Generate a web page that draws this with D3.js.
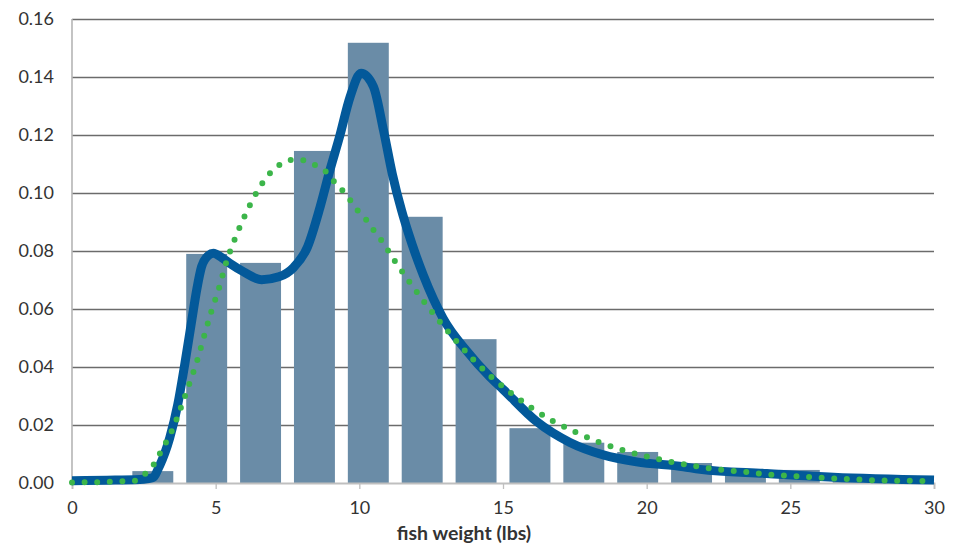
<!DOCTYPE html>
<html>
<head>
<meta charset="utf-8">
<script src="https://cdn.jsdelivr.net/npm/d3@7"></script>
<style>
  body { margin: 0; background: #fff; }
  svg { font-family: Lato, "Open Sans", sans-serif; }
</style>
</head>
<body>
<div id="viz-container"></div>
<script>
// histogram bins (16 bins over 0..30 lbs) and relative frequency
let binLabels = ["0.94", "2.81", "4.69", "6.56", "8.44", "10.31", "12.19", "14.06",
                 "15.94", "17.81", "19.69", "21.56", "23.44", "25.31", "27.19", "29.06"];
let binValues = [0, 0.0041, 0.079, 0.0759, 0.1145, 0.1518, 0.0918, 0.0496,
                 0.0189, 0.0139, 0.0107, 0.0069, 0.004, 0.0045, 0.0012, 0.0008];

// kernel density estimate (thick blue)
let kdeX = [0, 1.5, 2.5, 2.8, 3.06, 3.4, 3.68, 3.93, 4.17, 4.34, 4.51, 4.75, 4.92, 5.2, 5.5,
            5.96, 6.6, 7.2, 7.7, 8.2, 8.63, 8.98, 9.3, 9.68, 10.06, 10.49, 10.84, 11.15, 11.47,
            11.7, 12.23, 12.92, 13.74, 14.55, 15.01, 16.17, 17.33, 18.49, 19.65, 21.28, 21.86,
            24.18, 26.5, 30];
let kdeY = [0.0008, 0.001, 0.0013, 0.0018, 0.0062, 0.0155, 0.027, 0.0413, 0.0562, 0.0666,
            0.0746, 0.0785, 0.0792, 0.0778, 0.0757, 0.0729, 0.0701, 0.0711, 0.0742, 0.0815,
            0.095, 0.108, 0.119, 0.1332, 0.1413, 0.1367, 0.1217, 0.1065, 0.094, 0.0864, 0.0716,
            0.0567, 0.0455, 0.0365, 0.0322, 0.0212, 0.014, 0.0097, 0.0073, 0.0056, 0.0047,
            0.0033, 0.002, 0.001];

// fitted distribution (green dotted)
let fitX = [0, 0.9, 1.75, 2.19, 2.56, 2.86, 3.06, 3.27, 3.5, 3.79, 4.08, 4.36, 4.6, 4.85, 5.11,
            5.37, 5.67, 6.0, 6.38, 6.89, 7.22, 7.61, 8.04, 8.45, 8.82, 9.12, 9.4, 9.68, 9.95,
            10.23, 10.49, 10.76, 11.23, 11.74, 12.26, 12.81, 13.37, 13.97, 14.58, 15.27, 15.98,
            16.73, 17.51, 18.31, 19.14, 19.98, 20.84, 21.7, 22.57, 23.45, 24.32, 25.2, 26.07,
            26.94, 27.81, 28.69, 29.56, 30];
let fitY = [0.0002, 0.0003, 0.0006, 0.0008, 0.0033, 0.0066, 0.0102, 0.014, 0.0185, 0.026,
            0.0341, 0.0423, 0.0507, 0.0592, 0.067, 0.0761, 0.0842, 0.0918, 0.0994, 0.1068,
            0.1097, 0.1114, 0.1113, 0.1097, 0.1075, 0.104, 0.101, 0.0976, 0.0939, 0.0909,
            0.0873, 0.0838, 0.0766, 0.0694, 0.0624, 0.0555, 0.049, 0.0425, 0.0367, 0.0311,
            0.026, 0.0214, 0.0176, 0.0142, 0.0114, 0.0092, 0.0073, 0.0058, 0.0046, 0.0038,
            0.0029, 0.0023, 0.0018, 0.0014, 0.001, 0.0008, 0.0007, 0.0006];

let xTicks = [0, 5, 10, 15, 20, 25, 30];
let yTicks = [0, 0.02, 0.04, 0.06, 0.08, 0.10, 0.12, 0.14, 0.16];

let W = 955, H = 546;
let mLeft = 72, mRight = 934, mTop = 19, mBottom = 483;

let viz = d3.select("#viz-container")
    .append("svg")
    .attr("width", W)
    .attr("height", H);

let x = d3.scaleLinear().domain([0, 30]).range([mLeft, mRight]);
let y = d3.scaleLinear().domain([0, 0.16]).range([mBottom, mTop]);
let band = d3.scaleBand().domain(binLabels).range([mLeft, mRight])
    .paddingInner(0.24).paddingOuter(0.12);

// y axis + gridlines
let yAxis = viz.append("g")
    .attr("transform", `translate(${mLeft},0)`)
    .call(d3.axisLeft(y).tickValues(yTicks).tickFormat(d3.format(".2f"))
        .tickSize(-(mRight - mLeft)).tickPadding(18));
yAxis.select(".domain").remove();
yAxis.selectAll(".tick line")
    .attr("stroke", "#6b6b6b")
    .attr("stroke-width", 1.6)
    .attr("opacity", d => d == 0 ? 0 : 1);
yAxis.selectAll(".tick text")
    .attr("font-size", "18px")
    .attr("fill", "#333")
    .attr("font-family", "Lato, sans-serif");

// bars
viz.append("g").selectAll("rect").data(binValues).enter()
    .append("rect")
    .attr("x", (d, i) => band(binLabels[i]))
    .attr("width", band.bandwidth())
    .attr("y", d => y(d))
    .attr("height", d => y(0) - y(d))
    .attr("fill", "#6a8ca7");

// axis lines
viz.append("line")
    .attr("x1", mLeft).attr("x2", mLeft).attr("y1", mTop).attr("y2", mBottom)
    .attr("stroke", "#b5b5b5").attr("stroke-width", 1.6);

let xAxis = viz.append("g")
    .attr("transform", `translate(0,${mBottom})`)
    .call(d3.axisBottom(x).tickValues(xTicks).tickSize(6).tickPadding(12));
xAxis.select(".domain")
    .attr("stroke", "#bfbfbf")
    .attr("stroke-width", 1.8);
xAxis.selectAll(".tick line")
    .attr("stroke", "#bfbfbf")
    .attr("stroke-width", 1.3);
xAxis.selectAll(".tick text")
    .attr("font-size", "18px")
    .attr("fill", "#333")
    .attr("font-family", "Lato, sans-serif");

// kde curve
let kde = kdeX.map((v, i) => [v, kdeY[i]]);
viz.append("path")
    .datum(kde)
    .attr("d", d3.line().x(d => x(d[0])).y(d => y(d[1])).curve(d3.curveMonotoneX))
    .attr("fill", "none")
    .attr("stroke", "#03599a")
    .attr("stroke-width", 9)
    .attr("stroke-linejoin", "round");

// fitted curve, dotted
let fit = fitX.map((v, i) => [v, fitY[i]]);
viz.append("path")
    .datum(fit)
    .attr("d", d3.line().x(d => x(d[0])).y(d => y(d[1])).curve(d3.curveMonotoneX))
    .attr("fill", "none")
    .attr("stroke", "#3cb54a")
    .attr("stroke-width", 6)
    .attr("stroke-linecap", "round")
    .attr("stroke-dasharray", "0 12.6");

// axis title
viz.append("text")
    .attr("x", 464)
    .attr("y", 540)
    .attr("text-anchor", "middle")
    .attr("font-size", "19.5px")
    .attr("font-weight", "bold")
    .attr("fill", "#333")
    .text("fish weight (lbs)");
</script>
</body>
</html>
